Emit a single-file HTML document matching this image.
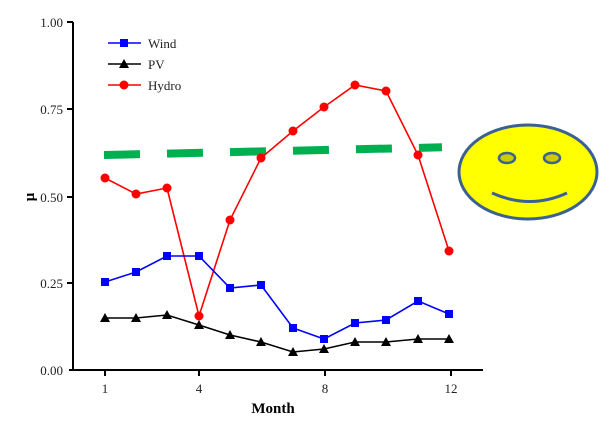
<!DOCTYPE html>
<html><head><style>body{margin:0;background:#fff}svg{display:block}</style></head><body>
<svg width="602" height="424" xmlns="http://www.w3.org/2000/svg" font-family="Liberation Serif, serif">
<g stroke="#000" stroke-width="2" fill="none">
<line x1="73" y1="22" x2="73" y2="371"/>
<line x1="69" y1="370" x2="483" y2="370"/>
<line x1="67" y1="22" x2="73" y2="22"/><line x1="67" y1="109" x2="73" y2="109"/><line x1="67" y1="197" x2="73" y2="197"/><line x1="67" y1="283" x2="73" y2="283"/>
<line x1="105" y1="370" x2="105" y2="376"/><line x1="199" y1="370" x2="199" y2="376"/><line x1="325" y1="370" x2="325" y2="376"/><line x1="451" y1="370" x2="451" y2="376"/>
</g>
<g font-size="13" fill="#222" text-anchor="end">
<text x="63" y="27">1.00</text><text x="63" y="114">0.75</text><text x="63" y="202">0.50</text><text x="63" y="288">0.25</text><text x="63" y="375">0.00</text>
</g>
<g font-size="13" fill="#222" text-anchor="middle">
<text x="105" y="393">1</text><text x="199" y="393">4</text><text x="325" y="393">8</text><text x="451" y="393">12</text>
</g>
<text x="273" y="413" font-size="15" font-weight="bold" text-anchor="middle">Month</text>
<text x="34" y="197" font-size="15" font-weight="bold" text-anchor="middle" transform="rotate(-90 34 197)">μ</text>
<line x1="104" y1="155" x2="442" y2="147.3" stroke="#00b050" stroke-width="8" stroke-dasharray="36,27"/>
<polyline fill="none" stroke="#f00" stroke-width="1.6" points="105,178 136,194 167,188 199,316 230,220 261,158 293,131 324,107 355,85 386,91 418,155 449,251"/>
<g fill="#f00"><circle cx="105" cy="178" r="4.5"/><circle cx="136" cy="194" r="4.5"/><circle cx="167" cy="188" r="4.5"/><circle cx="199" cy="316" r="4.5"/><circle cx="230" cy="220" r="4.5"/><circle cx="261" cy="158" r="4.5"/><circle cx="293" cy="131" r="4.5"/><circle cx="324" cy="107" r="4.5"/><circle cx="355" cy="85" r="4.5"/><circle cx="386" cy="91" r="4.5"/><circle cx="418" cy="155" r="4.5"/><circle cx="449" cy="251" r="4.5"/></g>
<polyline fill="none" stroke="#00f" stroke-width="1.6" points="105,282 136,272 167,256 199,256 230,288 261,285 293,328 324,339 355,323 386,320 418,301 449,314"/>
<g fill="#00f"><rect x="101" y="278" width="8" height="8"/><rect x="132" y="268" width="8" height="8"/><rect x="163" y="252" width="8" height="8"/><rect x="195" y="252" width="8" height="8"/><rect x="226" y="284" width="8" height="8"/><rect x="257" y="281" width="8" height="8"/><rect x="289" y="324" width="8" height="8"/><rect x="320" y="335" width="8" height="8"/><rect x="351" y="319" width="8" height="8"/><rect x="382" y="316" width="8" height="8"/><rect x="414" y="297" width="8" height="8"/><rect x="445" y="310" width="8" height="8"/></g>
<polyline fill="none" stroke="#000" stroke-width="1.6" points="105,318 136,318 167,315 199,325 230,335 261,342 293,352 324,349 355,342 386,342 418,339 449,339"/>
<g fill="#000">
<path d="M105,313l5,9h-10z"/><path d="M136,313l5,9h-10z"/><path d="M167,310l5,9h-10z"/><path d="M199,320l5,9h-10z"/><path d="M230,330l5,9h-10z"/><path d="M261,337l5,9h-10z"/><path d="M293,347l5,9h-10z"/><path d="M324,344l5,9h-10z"/><path d="M355,337l5,9h-10z"/><path d="M386,337l5,9h-10z"/><path d="M418,334l5,9h-10z"/><path d="M449,334l5,9h-10z"/>
</g>
<line x1="108" y1="43" x2="141" y2="43" stroke="#00f" stroke-width="1.6"/><rect x="120" y="39" width="8" height="8" fill="#00f"/>
<line x1="108" y1="64" x2="141" y2="64" stroke="#000" stroke-width="1.6"/><path d="M124,59l5,9h-10z"/>
<line x1="108" y1="85" x2="141" y2="85" stroke="#f00" stroke-width="1.6"/><circle cx="124" cy="85" r="4.5" fill="#f00"/>
<g font-size="13" fill="#222"><text x="148" y="48">Wind</text><text x="148" y="69">PV</text><text x="148" y="90">Hydro</text></g>
<ellipse cx="528" cy="172" rx="69" ry="47" fill="#ffff00" stroke="#3a6192" stroke-width="3"/>
<ellipse cx="507" cy="158" rx="8" ry="5" fill="#cccc00" stroke="#3a6192" stroke-width="2.5"/>
<ellipse cx="552" cy="158" rx="8" ry="5" fill="#cccc00" stroke="#3a6192" stroke-width="2.5"/>
<path d="M492,193 Q530,210 567,193" fill="none" stroke="#3a6192" stroke-width="3"/>
</svg>
</body></html>
